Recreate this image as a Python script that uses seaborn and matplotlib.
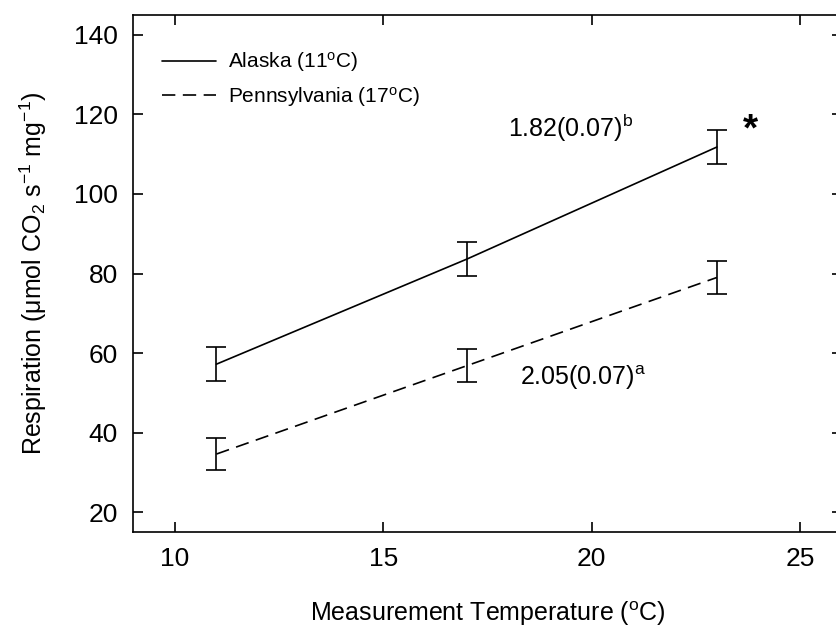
import matplotlib
matplotlib.use("Agg")
from matplotlib import pyplot as plt
import seaborn as sns
import pandas as pd

# measurement temperatures and respiration (mean, SE) per population
temps = [11, 17, 23]
alaska = [57.2, 83.6, 111.8]
alaska_se = [4.2, 4.2, 4.2]
penn = [34.6, 56.8, 79.0]
penn_se = [4.1, 4.1, 4.1]
labels = ["Alaska (11$^{\\rm o}$C)", "Pennsylvania (17$^{\\rm o}$C)"]

df = pd.DataFrame({
    "temp": temps + temps,
    "resp": alaska + penn,
    "se": alaska_se + penn_se,
    "pop": [labels[0]] * 3 + [labels[1]] * 3,
})

sns.set_style("ticks")
plt.rcParams['font.family'] = ['Liberation Sans', 'DejaVu Sans']
plt.rcParams['mathtext.fontset'] = 'custom'
plt.rcParams['mathtext.rm'] = 'Liberation Sans'
plt.rcParams['mathtext.it'] = 'Liberation Sans:italic'
plt.rcParams['text.color'] = 'black'
plt.rcParams['axes.labelcolor'] = 'black'
plt.rcParams['xtick.color'] = 'black'
plt.rcParams['ytick.color'] = 'black'
plt.rcParams['axes.edgecolor'] = 'black'

fig = plt.figure(figsize=(8.36, 6.29), dpi=100)
ax = fig.add_axes([133 / 836, 1 - 532 / 629, (842 - 133) / 836, (532 - 15) / 629])

sns.lineplot(data=df, x="temp", y="resp", style="pop", color="black",
             dashes={labels[0]: "", labels[1]: (8, 4.5)}, linewidth=1.2, ax=ax)
for p, g in df.groupby("pop"):
    ax.errorbar(g["temp"], g["resp"], yerr=g["se"], fmt="none", ecolor="black",
                elinewidth=1.2, capsize=7, capthick=1.2)

ax.set_xlim(9, 26)
ax.set_ylim(15, 145)
ax.set_xticks([10, 15, 20, 25])
ax.set_yticks(range(20, 141, 20))
ax.tick_params(direction="in", length=7, width=1.2, labelsize=19, pad=11,
               top=True, right=True)
for s in ax.spines.values():
    s.set_linewidth(1.2)
    s.set_visible(True)

ax.set_xlabel("Measurement Temperature ($^{\\rm o}$C)", fontsize=18, labelpad=20)
ax.set_ylabel("Respiration (μmol CO$_2$ s$^{-1}$ mg$^{-1}$)", fontsize=18, labelpad=18)

ax.text(19.5, 116.5, "1.82(0.07)$^{\\rm b}$", fontsize=18, ha="center", va="center")
ax.text(19.8, 53.7, "2.05(0.07)$^{\\rm a}$", fontsize=18, ha="center", va="center")
ax.text(23.8, 116.0, "*", fontsize=28, fontweight="bold", ha="center", va="center")

leg = ax.legend(loc="upper left", frameon=False, fontsize=15, handlelength=2.6,
                handletextpad=0.6, labelspacing=0.5, borderaxespad=0.5,
                bbox_to_anchor=(0.014, 0.968))
for h in leg.get_lines():
    h.set_linewidth(1.2)

fig.savefig("out.png", dpi=100)
